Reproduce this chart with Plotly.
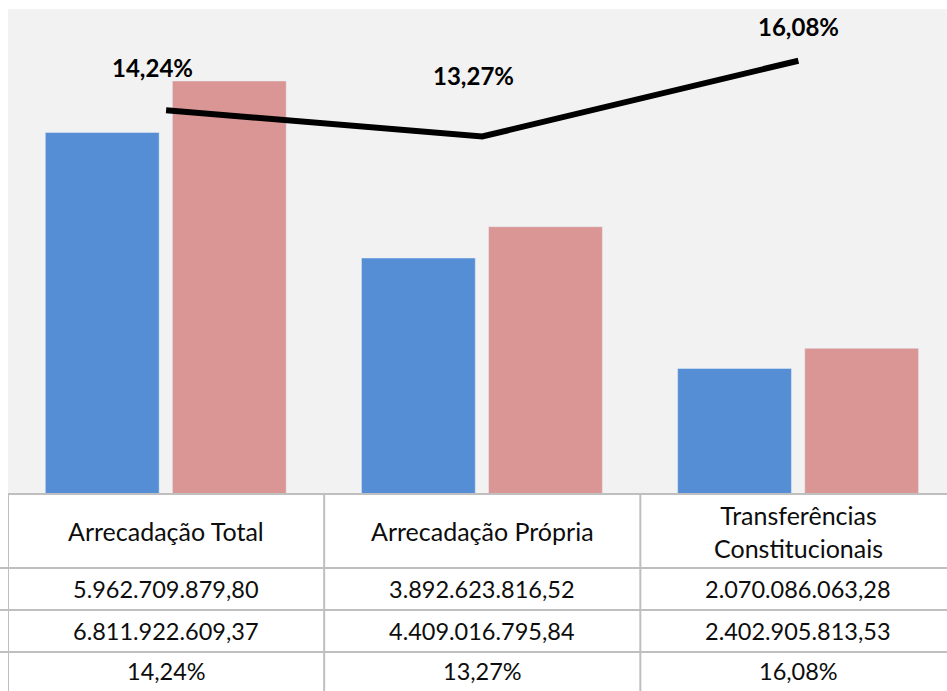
import plotly.graph_objects as go

categories = ["Arrecadação Total", "Arrecadação Própria", "Transferências<br>Constitucionais"]
valores_2017 = [5962709879.80, 3892623816.52, 2070086063.28]
valores_2018 = [6811922609.37, 4409016795.84, 2402905813.53]
variacao = [14.24, 13.27, 16.08]

FONT = "Lato"
W, H = 947, 691
M_T, M_B, M_L, M_R = 9, 197, 8, 0
PLOT_H = H - M_T - M_B


def py(px_below):
    # pixel distance below the plot bottom -> paper y
    return -px_below / PLOT_H


def br_num(v):
    s = f"{v:,.2f}"
    return s.replace(",", "X").replace(".", ",").replace("X", ".")


def br_pct(v):
    return f"{v:.2f}".replace(".", ",") + "%"


x = list(range(len(categories)))

fig = go.Figure()

fig.add_trace(go.Bar(
    x=x, y=valores_2017, marker_color="#558ed5",
    width=0.36, offset=-0.382, hoverinfo="skip"
))
fig.add_trace(go.Bar(
    x=x, y=valores_2018, marker_color="#d99694",
    width=0.36, offset=0.02, hoverinfo="skip"
))
fig.add_trace(go.Scatter(
    x=x, y=variacao, yaxis="y2", mode="lines",
    line=dict(color="#000000", width=6), hoverinfo="skip"
))

# labels on the line (moved by hand in the original)
label_shift = [(-14, 43), (-9, 61), (0, 34)]
annotations = []
for i, v in enumerate(variacao):
    dx, dy = label_shift[i]
    annotations.append(dict(
        x=x[i], y=v, xref="x", yref="y2", text=br_pct(v),
        showarrow=False, xshift=dx, yshift=dy,
        font=dict(family=FONT, size=24, color="#000000", weight="bold")
    ))

# data table under the chart
rows = [
    (37, categories, 25),
    (95, [br_num(v) for v in valores_2017], 23.5),
    (137, [br_num(v) for v in valores_2018], 23.5),
    (177, [br_pct(v) for v in variacao], 23.5),
]
for off, texts, size in rows:
    for i, t in enumerate(texts):
        annotations.append(dict(
            x=x[i], y=py(off), xref="x", yref="paper", text=t,
            showarrow=False, yanchor="middle",
            font=dict(family=FONT, size=size, color="#0d0d0d")
        ))

grid = dict(color="#bfbfbf", width=2)
shapes = [dict(type="line", xref="paper", yref="paper", x0=0, x1=1.01,
               y0=0, y1=0, line=grid)]
for off in [74, 116, 158]:
    shapes.append(dict(type="line", xref="paper", yref="paper", x0=-0.01, x1=1.01,
                       y0=py(off), y1=py(off), line=grid))
for xv in [-0.5, 0.5, 1.5]:
    shapes.append(dict(type="line", xref="x", yref="paper", x0=xv, x1=xv,
                       y0=0, y1=py(M_B), line=grid))

fig.update_layout(
    width=W, height=H,
    margin=dict(l=M_L, r=M_R, t=M_T, b=M_B),
    paper_bgcolor="#ffffff",
    plot_bgcolor="#f2f2f2",
    barmode="overlay",
    showlegend=False,
    xaxis=dict(range=[-0.5, 2.47], visible=False, fixedrange=True),
    yaxis=dict(range=[0, 8e9], visible=False, fixedrange=True),
    yaxis2=dict(range=[0, 18], overlaying="y", visible=False, fixedrange=True),
    annotations=annotations,
    shapes=shapes,
    font=dict(family=FONT),
)

# drop the default page margin so the figure fills the window exactly
fig.write_html(
    "out.html",
    config={"displayModeBar": False},
    post_script="document.body.style.margin='0';document.body.style.overflow='hidden';",
)
